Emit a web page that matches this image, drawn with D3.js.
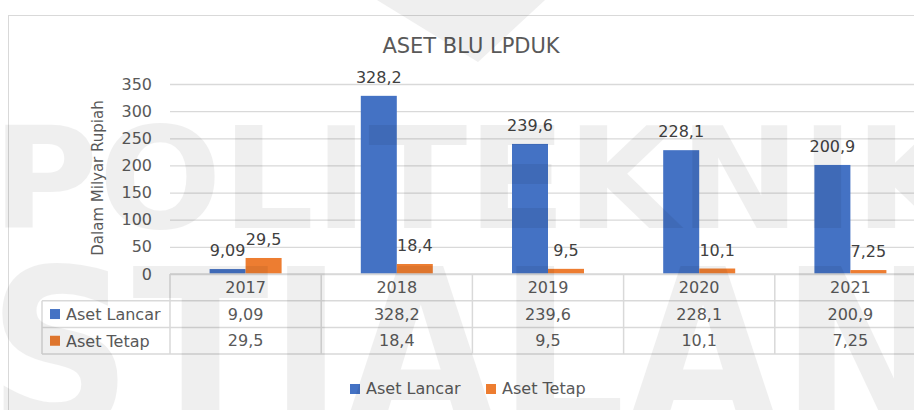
<!DOCTYPE html>
<html>
<head>
<meta charset="utf-8">
<script src="https://cdn.jsdelivr.net/npm/d3@7"></script>
<style>
  body { margin: 0; background: #fff; }
  svg { display: block; font-family: "DejaVu Sans", sans-serif; }
</style>
</head>
<body>
<div id="chart"></div>
<script>
// Aset BLU LPDUK (dalam milyar rupiah)
const years = ["2017", "2018", "2019", "2020", "2021"];
const series = ["Aset Lancar", "Aset Tetap"];
const asetLancar = [9.09, 328.2, 239.6, 228.1, 200.9];
const asetTetap = [29.5, 18.4, 9.5, 10.1, 7.25];
const yTicks = [0, 50, 100, 150, 200, 250, 300, 350];
const colors = ["#4472C4", "#ED7D31"];

const values = [asetLancar, asetTetap];
const fmt = v => String(v).replace(".", ",");

const width = 914, height = 410;
const plot = { left: 170, right: 926, top: 84, bottom: 274 };
const rowH = 26.7;
const textCol = "#595959", gridCol = "#d9d9d9";

const svg = d3.select("#chart").append("svg")
    .attr("width", width)
    .attr("height", height);

// outer chart border (runs off the right and bottom edge)
svg.append("rect")
    .attr("x", 8.5).attr("y", 15.5)
    .attr("width", 960).attr("height", 420)
    .attr("fill", "none").attr("stroke", gridCol);

// title
svg.append("text")
    .attr("x", 471).attr("y", 53)
    .attr("text-anchor", "middle")
    .attr("fill", textCol)
    .style("font-size", "21px")
    .text("ASET BLU LPDUK");

const x = d3.scaleBand().domain(years).range([plot.left, plot.right]);
const xSub = d3.scaleBand().domain(series).range([0, x.bandwidth()]).paddingOuter(1.1);
const y = d3.scaleLinear().domain([0, 350]).range([plot.bottom, plot.top]);

// gridlines + y tick labels
const yAxis = svg.append("g")
    .attr("transform", `translate(${plot.left},0)`)
    .call(d3.axisLeft(y).tickValues(yTicks).tickSize(-(plot.right - plot.left)).tickPadding(18));
yAxis.select(".domain").remove();
yAxis.selectAll(".tick line").attr("stroke", gridCol).attr("stroke-width", 1.3);
yAxis.selectAll(".tick text")
    .attr("fill", textCol)
    .style("font-size", "16px")
    .style("font-family", "DejaVu Sans");

// y axis title
svg.append("text")
    .attr("transform", "translate(103,178) rotate(-90)")
    .attr("text-anchor", "middle")
    .attr("fill", textCol)
    .style("font-size", "15px")
    .text("Dalam Milyar Rupiah");

// bars
const barData = [];
series.forEach((s, i) => {
    years.forEach((yr, j) => barData.push({ s, i, yr, v: values[i][j] }));
});

svg.append("g").selectAll("rect")
    .data(barData)
    .join("rect")
    .attr("x", d => x(d.yr) + xSub(d.s))
    .attr("y", d => y(d.v))
    .attr("width", xSub.bandwidth())
    .attr("height", d => y(0) - y(d.v))
    .attr("fill", d => colors[d.i]);

// data labels
svg.append("g").selectAll("text")
    .data(barData)
    .join("text")
    .attr("x", d => x(d.yr) + xSub(d.s) + xSub.bandwidth() / 2)
    .attr("y", d => y(d.v) - 13)
    .attr("text-anchor", "middle")
    .attr("fill", "#404040")
    .style("font-size", "16px")
    .text(d => fmt(d.v));

// data table
const tbl = svg.append("g").attr("stroke", gridCol).attr("stroke-width", 1.5);
const tableLeft = 42;
const rowY = [plot.bottom, plot.bottom + rowH, plot.bottom + 2 * rowH, plot.bottom + 3 * rowH];
tbl.append("line").attr("x1", plot.left).attr("x2", plot.right).attr("y1", rowY[0]).attr("y2", rowY[0]);
[1, 2, 3].forEach(k => {
    tbl.append("line").attr("x1", tableLeft).attr("x2", plot.right).attr("y1", rowY[k]).attr("y2", rowY[k]);
});
tbl.append("line").attr("x1", tableLeft).attr("x2", tableLeft).attr("y1", rowY[1]).attr("y2", rowY[3]);
years.forEach(yr => {
    tbl.append("line").attr("x1", x(yr)).attr("x2", x(yr)).attr("y1", rowY[0]).attr("y2", rowY[3]);
});

const tText = svg.append("g")
    .attr("fill", textCol)
    .attr("text-anchor", "middle")
    .style("font-size", "16px");

years.forEach((yr, j) => {
    const cx = x(yr) + x.bandwidth() / 2;
    tText.append("text").attr("x", cx).attr("y", rowY[0] + 19).text(yr);
    series.forEach((s, i) => {
        tText.append("text").attr("x", cx).attr("y", rowY[i + 1] + 19).text(fmt(values[i][j]));
    });
});

series.forEach((s, i) => {
    const cy = (rowY[i + 1] + rowY[i + 2]) / 2;
    svg.append("rect")
        .attr("x", 50).attr("y", cy - 5)
        .attr("width", 10).attr("height", 10)
        .attr("fill", colors[i]);
    svg.append("text")
        .attr("x", 66).attr("y", cy + 6)
        .attr("fill", textCol)
        .style("font-size", "16px")
        .text(s);
});

// legend
const legendX = [350, 486];
series.forEach((s, i) => {
    svg.append("rect")
        .attr("x", legendX[i]).attr("y", 384)
        .attr("width", 10).attr("height", 10)
        .attr("fill", colors[i]);
    svg.append("text")
        .attr("x", legendX[i] + 16).attr("y", 394)
        .attr("fill", textCol)
        .style("font-size", "16px")
        .text(s);
});

// faint watermark over everything
const wm = svg.append("g")
    .attr("fill", "#000")
    .attr("opacity", 0.06)
    .style("pointer-events", "none")
    .style("font-weight", "bold");
wm.append("path").attr("d", "M377,0 L545,0 L478,62 Z");
wm.append("text")
    .attr("x", -8).attr("y", 228)
    .attr("textLength", 975).attr("lengthAdjust", "spacingAndGlyphs")
    .style("font-size", "141px")
    .text("POLITEKNIK");
wm.append("text")
    .attr("x", -12).attr("y", 430)
    .attr("textLength", 960).attr("lengthAdjust", "spacingAndGlyphs")
    .style("font-size", "225px")
    .text("STIALAN");
</script>
</body>
</html>
